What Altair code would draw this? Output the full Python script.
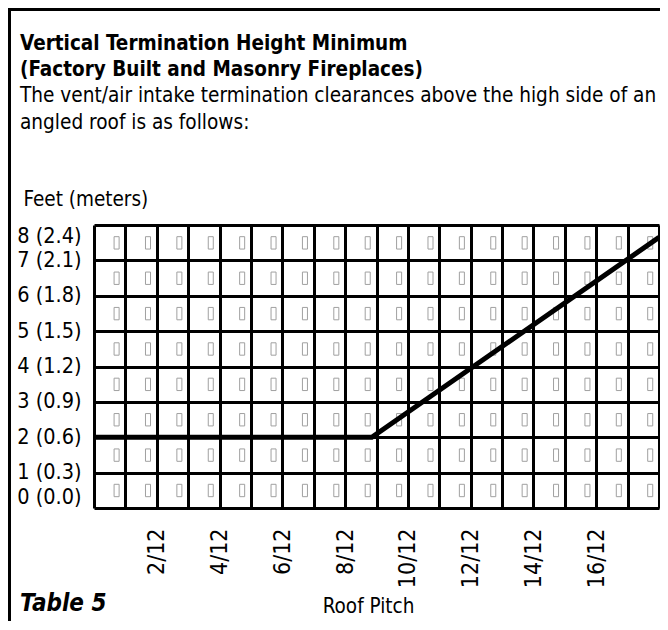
import altair as alt
import pandas as pd

# ---- data ----
pitch = [0, 8.85, 18]            # roof pitch (x/12)
height_ft = [2, 2, 7.65]         # minimum termination height, feet
y_ticks = [0, 1, 2, 3, 4, 5, 6, 7, 8]
y_meters = ["0.0", "0.3", "0.6", "0.9", "1.2", "1.5", "1.8", "2.1", "2.4"]
x_grid = list(range(0, 19))
x_labeled = [2, 4, 6, 8, 10, 12, 14, 16]

FONT = "'DejaVu Sans Condensed', 'DejaVu Sans', sans-serif"

line_df = pd.DataFrame({"pitch": pitch, "ft": height_ft})

# small placeholder boxes in each grid cell
cells = []
for c in range(18):
    for r in range(8):
        cells.append({"x1": c + 0.64, "x2": c + 0.80, "y1": r + 0.32, "y2": r + 0.67})
cells_df = pd.DataFrame(cells)

y_expr = " : ".join(
    f"datum.value == {v} ? '{v} ({m})'" for v, m in zip(y_ticks, y_meters)
) + " : ''"
x_expr = "indexof([" + ",".join(str(v) for v in x_labeled) + "], datum.value) >= 0 ? datum.value + '/12' : ''"

xscale = alt.Scale(domain=[0, 18], nice=False, zero=False)
yscale = alt.Scale(domain=[0, 8], nice=False)

x_axis = alt.Axis(
    values=x_grid, labelExpr=x_expr, grid=True, gridColor="black", gridWidth=3,
    gridOpacity=1, domain=False, ticks=False, labelAngle=270, labelPadding=20,
    labelFontSize=23, labelFont=FONT, labelColor="black", labelOverlap=False,
    title="Roof Pitch", titleFont=FONT, titleFontSize=20.5, titleFontWeight="normal",
    titleColor="black", titleX=274, titleY=104, titleBaseline="alphabetic",
    titleAlign="center",
)
y_axis = alt.Axis(
    values=y_ticks, labelExpr=y_expr, grid=True, gridColor="black", gridWidth=3,
    gridOpacity=1, domain=False, ticks=False, labelPadding=13, labelFontSize=21.5,
    labelFont=FONT, labelColor="black", labelFlush=True, labelOverlap=False,
    title="Feet (meters)", titleFont=FONT, titleFontSize=20.5, titleFontWeight="normal",
    titleColor="black", titleAngle=0, titleAlign="left", titleBaseline="alphabetic",
    titleX=-71, titleY=-20,
)

boxes = alt.Chart(cells_df).mark_rect(
    filled=False, stroke="#a0a0a0", strokeWidth=1
).encode(
    x=alt.X("x1:Q", scale=xscale, axis=x_axis),
    x2="x2:Q",
    y=alt.Y("y1:Q", scale=yscale, axis=y_axis),
    y2="y2:Q",
)

line = alt.Chart(line_df).mark_line(
    color="black", strokeWidth=5, strokeJoin="miter", strokeCap="butt"
).encode(
    x=alt.X("pitch:Q", scale=xscale, axis=x_axis),
    y=alt.Y("ft:Q", scale=yscale, axis=y_axis),
)

# outer frame of the figure (left and top edges)
frame_left = alt.Chart(line_df).mark_rule(color="black", strokeWidth=3).encode(
    x=alt.value(-84.5), y=alt.value(-217), y2=alt.value(420)
)
frame_top = alt.Chart(line_df).mark_rule(color="black", strokeWidth=3).encode(
    x=alt.value(-86), x2=alt.value(600), y=alt.value(-215.5)
)

table_label = alt.Chart(pd.DataFrame({"t": ["Table 5"]})).mark_text(
    font=FONT, fontSize=24, fontWeight="bold", fontStyle="italic",
    align="left", baseline="alphabetic", color="black",
).encode(x=alt.value(-74), y=alt.value(386), text="t:N")

chart = alt.layer(boxes, line, frame_left, frame_top, table_label).properties(
    width=565,
    height=283,
    autosize=alt.AutoSizeParams(type="none"),
    padding={"left": 86, "top": 217, "right": 1, "bottom": 113},
    title=alt.TitleParams(
        text=["Vertical Termination Height Minimum", "(Factory Built and Masonry Fireplaces)"],
        subtitle=["The vent/air intake termination clearances above the high side of an",
                  "angled roof is as follows:"],
        anchor="start", frame="group", dx=-74, dy=127, offset=0,
        font=FONT, fontSize=20.5, fontWeight="bold", lineHeight=26, color="black",
        subtitleFont=FONT, subtitleFontSize=20.6, subtitleLineHeight=27,
        subtitleColor="black", subtitlePadding=5.5,
    ),
).configure_view(stroke="black", strokeWidth=3).configure(background="white")

chart.save("out.html", embed_options={"renderer": "svg", "actions": False})
